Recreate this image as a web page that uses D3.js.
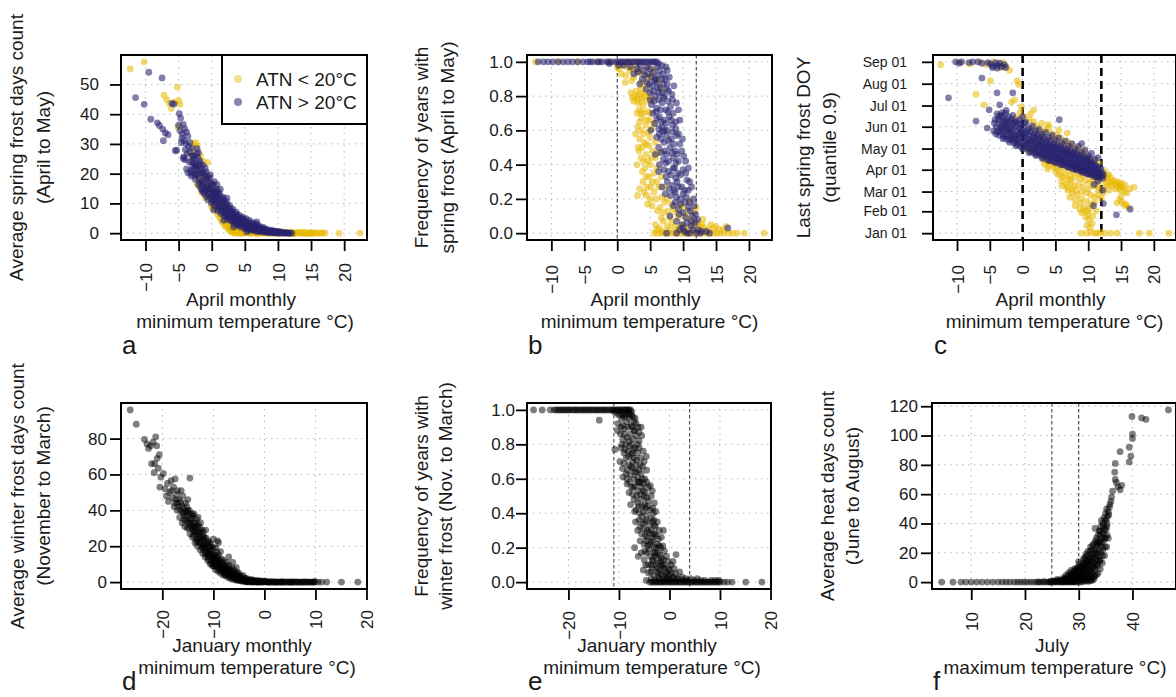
<!DOCTYPE html>
<html><head><meta charset="utf-8">
<script src="https://cdn.jsdelivr.net/npm/d3@7"></script>
<style>
body{margin:0;background:#fff}
svg{display:block}
text{font-family:"Liberation Sans",Arial,Helvetica,sans-serif;fill:#1a1a1a}
</style></head>
<body><svg id="chart" width="1176" height="697"></svg>
<script>
// ---------- tick labels / categories ----------
const aprTicks = [-10,-5,0,5,10,15,20];
const janTicks = [-20,-10,0,10,20];
const julTicks = [10,20,30,40];
const spring_yTicks = [0,10,20,30,40,50];
const freqTicks = [0,0.2,0.4,0.6,0.8,1.0];
const doyTicks = [1,32,60,91,121,152,182,213,244];
const doyLabels = ["Jan 01","Feb 01","Mar 01","Apr 01","May 01","Jun 01","Jul 01","Aug 01","Sep 01"];
const winter_yTicks = [0,20,40,60,80];
const heat_yTicks = [0,20,40,60,80,100,120];
const seriesNames = ["ATN < 20°C","ATN > 20°C"];

// ---------- panel a : April Tmin vs spring frost days ----------
const aCold = [
 [-12.3,55.2],[-10.2,57.6],[-7.2,46.4],[-6.8,44.9],[-6.4,43.6],[-6.1,41.9],[-5.6,44.1],[-5.2,49.1],[-5.0,44.6],[-4.8,43.3],[-5.1,35.6],
 [-2.4,30.4],[-2.7,27.6],[-1.7,26.1],[-1.3,24.2],[-0.6,23.8],[-3.0,26.2],[-2.8,30.0],[-2.2,29.4],
 [-2.1,18.2],[-2.0,20.1],[-1.9,22.3],[-1.6,16.4],[-1.4,19.2],[-1.1,14.1],[-0.9,16.3],[-0.8,18.4],[-0.5,12.2],[-0.4,15.1],[-0.3,17.2],
 [0.0,10.3],[0.1,12.4],[0.2,14.2],[0.3,16.1],[0.5,8.2],[0.6,10.4],[0.7,12.1],[0.9,6.3],[1.0,8.1],[1.1,10.2],[1.3,11.8],
 [1.4,4.4],[1.5,6.2],[1.6,8.3],[1.8,9.6],[2.0,2.3],[2.1,3.4],[2.2,5.1],[2.3,7.2],[2.4,8.4],[2.5,1.2],[2.6,2.2],[2.7,4.1],[2.8,6.0],
 [2.9,0.4],[3.0,1.1],[3.1,2.3],[3.2,3.2],[3.3,4.9],[3.5,0.1],[3.6,1.0],[3.7,2.1],[3.8,3.6],[4.0,0.2],[4.1,0.6],[4.3,1.4],[4.4,2.8],
 [4.8,0.1],[5.0,0.5],[5.2,1.1],[5.4,1.9],[5.8,0.1],[6.0,0.3],[6.3,0.9],[6.7,0.1],[7.0,0.2],[7.3,0.7],
 [0.2,9.0],[0.4,11.0],[0.8,7.2],[1.2,5.3],[1.6,3.6],[1.9,4.8],[2.2,2.6],[2.4,3.8],[2.7,1.6],[3.0,2.8],[3.4,1.6],[0.0,8.6],[-0.6,13.4],[-1.0,11.9],[-1.5,13.6],[-1.8,15.6],[-2.2,16.5],
 [7.8,0.0],[8.2,0.2],[8.6,0.0],[9.0,0.3],[9.4,0.0],[9.8,0.1],[10.2,0.0],[10.6,0.2],[11.0,0.0],[11.4,0.1],[11.8,0.0],[12.2,0.1],
 [12.6,0.0],[13.0,0.1],[13.4,0.0],[13.8,0.1],[14.2,0.0],[14.6,0.0],[15.0,0.1],[15.4,0.0],[15.9,0.0],[16.5,0.0],[17.1,0.0],[19.2,0.0],[22.4,0.0],
 [3.4,0.0],[4.6,0.0],[5.6,0.0],[6.5,0.0],[7.4,0.0],[8.0,0.4],[9.2,0.0],[10.4,0.3],[11.2,0.2],[12.8,0.2],[3.9,1.2],[4.5,0.4],
 [3.2,0.5],[3.8,0.3],[4.2,-0.2],[4.9,0.2],[5.3,0.6],[5.9,-0.1],[6.2,0.5],[6.9,-0.2],[7.2,0.4],[7.7,0.3],[8.4,-0.1],[8.8,0.5],[9.6,0.3],
 [10.0,-0.2],[10.8,0.4],[11.6,-0.1],[12.0,0.4],[12.4,-0.2],[13.2,0.3],[13.6,-0.1],[14.0,0.3],[14.4,-0.2],[14.8,0.2],[15.2,-0.1],[15.6,0.2],[16.2,0.0],[16.8,0.1]
];
const aWarm = [
 [-11.5,45.6],[-10.2,43.3],[-9.5,54.1],[-7.5,52.2],[-9.2,38.3],[-8.2,37.1],[-7.9,36.2],[-7.4,35.0],[-7.0,33.7],[-6.6,33.1],[-7.3,31.1],[-5.5,27.7],
 [-6.0,43.6],[-5.7,43.4],[-4.9,40.2],[-4.7,38.7],[-5.0,36.3],[-4.3,36.6],[-4.1,35.1],[-3.8,34.0],[-4.4,33.3],[-4.2,31.1],[-4.6,30.4],[-3.6,32.6],
 [-3.5,29.2],[-4.0,28.1],[-3.3,27.2],[-4.2,25.6],[-4.0,24.7],[-3.0,28.6],[-3.8,21.6],[-3.6,20.3],[-2.9,22.6],[-2.6,25.1],[-2.3,26.6],[-1.3,13.9],
 [-3.4,24.0],[-3.2,21.0],[-3.7,26.8],[-3.9,30.2],[-4.8,34.5],[-4.5,32.0],[-3.3,30.5],[-2.8,26.0],[-2.2,28.4],[-4.3,25.1],[-3.05,20.1],[-5.3,27.9],
 [-3.1,19.2],[-3.0,24.1],[-2.8,21.3],[-2.5,18.1],[-2.4,23.2],[-2.2,19.6],[-2.0,16.2],[-1.9,21.1],[-1.8,24.3],[-1.6,15.1],[-1.5,17.6],[-1.4,20.4],[-1.3,22.8],
 [-1.1,13.2],[-1.0,15.3],[-0.9,18.1],[-0.8,20.6],[-0.6,11.3],[-0.5,13.6],[-0.4,16.2],[-0.3,18.7],[-0.1,10.1],[0.0,12.2],[0.1,14.1],[0.2,16.4],
 [0.4,9.1],[0.5,11.2],[0.6,13.1],[0.7,14.8],[0.9,7.6],[1.0,9.4],[1.1,11.6],[1.2,13.3],[1.4,6.6],[1.5,8.4],[1.6,10.3],[1.7,12.1],
 [1.9,5.6],[2.0,7.1],[2.1,8.9],[2.2,10.6],[2.4,4.6],[2.5,6.1],[2.6,7.6],[2.7,9.3],[2.9,4.1],[3.0,5.2],[3.1,6.4],[3.2,8.1],
 [3.4,3.1],[3.5,4.4],[3.6,5.6],[3.7,7.1],[3.9,2.6],[4.0,3.6],[4.1,4.6],[4.2,6.0],[4.4,2.1],[4.5,3.1],[4.6,4.1],[4.7,5.4],
 [4.9,1.6],[5.0,2.6],[5.1,3.4],[5.2,4.9],[5.4,1.2],[5.5,2.1],[5.6,3.0],[5.7,4.3],[5.9,1.0],[6.0,1.8],[6.1,2.6],[6.2,3.5],
 [6.4,0.8],[6.5,1.5],[6.6,2.2],[6.7,3.1],[6.9,0.5],[7.0,1.2],[7.1,2.0],[7.4,0.4],[7.5,1.0],[7.6,1.7],[7.9,0.3],[8.0,0.8],[8.1,1.4],
 [8.4,0.2],[8.5,0.6],[8.6,1.1],[8.9,0.1],[9.0,0.5],[9.1,0.9],[9.4,0.1],[9.5,0.4],[9.6,0.7],[9.9,0.0],[10.0,0.3],[10.1,0.6],
 [10.5,0.0],[10.6,0.2],[11.0,0.0],[11.1,0.2],[11.5,0.0],[11.6,0.1],[12.1,0.0],
 [-2.0,27.1],[-1.2,17.0],[0.3,7.8],[1.8,4.3],[3.3,2.1],[5.3,0.4],[6.8,3.8],[2.3,11.8],[0.8,16.3],[-0.2,19.6],
 [-2.7,23.5],[-2.6,19.5],[-2.3,21.8],[-2.1,25.4],[-1.9,18.3],[-1.7,20.2],[-1.7,23.4],[-1.5,14.4],[-1.2,19.4],[-1.0,21.9],[-0.8,12.4],[-0.7,15.7],
 [-0.6,17.9],[-0.3,14.6],[-0.2,12.0],[0.0,15.2],[0.2,11.1],[0.3,13.2],[0.4,17.3],[0.6,9.8],[0.8,12.4],[0.9,14.2],[1.1,8.4],[1.3,10.8],[1.3,14.8],
 [1.5,7.2],[1.7,9.2],[1.8,11.2],[2.0,6.2],[2.1,8.0],[2.3,9.6],[2.4,5.4],[2.6,6.9],[2.8,8.4],[2.9,5.0],[3.1,4.4],[3.2,7.1],[3.4,3.8],[3.6,5.0],
 [3.8,6.3],[4.0,2.9],[4.2,4.1],[4.3,5.2],[4.6,2.6],[4.8,3.7],[4.9,4.6],[5.2,2.0],[5.3,3.0],[5.5,3.8],[5.8,1.4],[5.9,2.3],[6.0,3.0],[6.3,1.2],
 [6.4,2.0],[6.6,2.7],[6.8,1.0],[7.0,1.6],[7.2,2.4],[7.3,0.8],[7.6,1.3],[7.8,1.9],[8.2,0.5],[8.3,1.0],[8.7,0.4],[8.8,0.8],[9.2,0.3],[9.3,0.7],
 [9.7,0.2],[9.8,0.5],[10.3,0.1],[10.4,0.4],[10.8,0.1],[11.3,0.1],[11.8,0.0],
 [-2.9,25.8],[-2.5,22.4],[-2.4,20.0],[-2.0,23.0],[-1.8,17.0],[-1.6,21.8],[-1.4,16.2],[-1.1,20.0],[-0.9,14.6],[-0.7,19.0],[-0.5,15.0],[-0.4,13.0],
 [-0.1,16.8],[0.1,10.8],[0.2,13.0],[0.5,14.0],[0.6,11.8],[0.9,10.4],[1.0,13.0],[1.2,9.0],[1.4,11.9],[1.6,8.0],[1.9,10.2],[2.1,6.6],[2.2,8.4],
 [2.5,7.0],[2.7,5.4],[2.9,7.4],[3.1,5.6],[3.3,4.2],[3.5,6.2],[3.7,4.0],[3.9,5.2],[4.1,3.2],[4.3,4.6],[4.5,3.6],[4.7,2.8],[4.9,3.9],[5.1,2.2],
 [5.3,3.4],[5.6,2.5],[5.8,1.8],[6.0,2.4],[6.3,1.6],[6.5,2.4],[6.8,1.4],[7.1,1.0],[7.3,1.8],[7.7,0.9],[8.0,1.2],[8.4,0.7],[8.9,0.6]
];

// ---------- panel b : April Tmin vs frequency of spring frost ----------
const bCold = [
 [-12.4,1],[-8.9,1],[-6.1,1],[-3.0,1],[-0.8,1],[1.5,1],[3.2,1],
 [0.3,0.96],[0.8,0.98],[1.3,0.92],[1.9,0.95],[2.5,0.91],[3.0,0.94],[1.2,0.88],[3.6,0.88],[4.3,0.86],[5.1,0.92],[5.6,0.95],[6.3,0.89],[6.8,0.84],[4.8,0.97],
 [0.0,0.97],[1.6,0.97],[2.3,0.96],[2.8,0.98],[3.4,0.95],[4.0,0.93],[4.6,0.9],[2.2,0.89],[0.6,0.93],
 [2.1,0.82],[2.6,0.8],[3.0,0.78],[3.4,0.81],[3.8,0.79],[4.2,0.8],[4.5,0.77],[3.2,0.76],[2.5,0.77],[3.9,0.74],
 [2.9,0.83],[3.6,0.84],[4.1,0.82],[4.8,0.8],[5.3,0.78],[2.3,0.79],[3.2,0.8],[3.7,0.77],
 [3.3,0.72],[4.0,0.7],[4.6,0.71],[4.9,0.66],[3.7,0.67],[4.3,0.63],[5.2,0.61],[3.1,0.62],[4.0,0.58],[4.7,0.59],
 [3.0,0.7],[3.6,0.7],[5.0,0.7],[3.4,0.65],[4.5,0.66],[5.6,0.64],[2.8,0.58],[3.6,0.6],[5.0,0.56],[5.8,0.53],[3.2,0.5],[3.8,0.5],[4.4,0.52],[6.2,0.47],
 [3.4,0.55],[4.1,0.53],[4.8,0.51],[5.4,0.48],[4.4,0.46],[3.6,0.44],[5.8,0.44],[3.0,0.4],[4.2,0.38],[5.0,0.4],[3.8,0.36],
 [3.3,0.48],[4.6,0.42],[5.2,0.44],[4.0,0.42],[6.0,0.38],[5.6,0.35],[4.4,0.33],[3.9,0.3],[5.1,0.27],[6.0,0.3],[6.7,0.33],[7.2,0.27],
 [4.8,0.33],[5.3,0.3],[4.5,0.27],[3.4,0.26],[3.1,0.22],[5.6,0.24],[4.1,0.24],[6.3,0.27],[5.9,0.2],[6.8,0.21],[7.2,0.18],[6.5,0.15],[4.6,0.17],
 [4.4,0.22],[5.0,0.2],[5.3,0.16],[6.1,0.13],[7.0,0.12],[7.6,0.2],[8.6,0.14],[9.3,0.09],[8.0,0.09],[10.1,0.15],[11.0,0.19],[12.0,0.15],[6.7,0.09],
 [8.2,0.17],[7.7,0.13],[9.0,0.12],[9.6,0.16],[10.3,0.1],[10.8,0.13],[11.2,0.08],[11.7,0.12],[12.2,0.06],
 [5.8,0.05],[6.4,0.03],[7.0,0.07],[7.6,0.04],[8.3,0.06],[9.1,0.02],[10.0,0.05],[10.7,0.03],[11.5,0.05],[12.6,0.04],[13.2,0.03],[14.2,0.05],[15.0,0.04],[16.1,0.02],
 [6.0,0.02],[6.9,0.01],[8.0,0.02],[8.8,0.04],[9.6,0.03],[10.4,0.01],[11.9,0.02],[12.9,0.05],[13.8,0.02],[14.6,0.03],[15.5,0.02],[16.5,0.04],[13.0,0.08],
 [5.6,0],[6.1,0],[6.6,0],[7.1,0],[7.6,0],[8.1,0],[8.6,0],[9.1,0],[9.6,0],[10.1,0],[10.6,0],[11.1,0],[11.6,0],[12.1,0],[12.6,0],[13.1,0],
 [13.6,0],[14.1,0],[14.6,0],[15.1,0],[15.6,0],[16.2,0],[16.9,0],[17.5,0],[18.2,0],[19.3,0],[22.3,0]
];
const bWarm = [
 [-12.0,1],[-11.2,1],[-10.5,1],[-9.8,1],[-9.0,1],[-8.2,1],[-7.5,1],[-6.8,1],[-6.0,1],[-5.2,1],[-4.5,1],[-3.7,1],[-3.0,1],[-2.3,1],
 [-1.6,1],[-0.9,1],[-0.2,1],[0.5,1],[1.2,1],[1.9,1],[2.6,1],[3.3,1],[4.0,1],[4.7,1],[5.4,1],[6.0,1],
 [-4.1,1],[-2.7,1],[-1.3,1],[0.1,1],[0.8,1],[1.6,1],[2.3,1],[3.0,1],[3.7,1],[4.4,1],[5.1,1],[5.7,1],[6.3,0.99],[6.8,0.98],[7.4,0.97],
 [-1.2,0.99],[0.2,0.98],[1.0,0.98],[2.0,0.97],[3.0,0.96],[3.5,0.98],[4.0,0.95],[4.5,0.97],[5.0,0.96],[5.5,0.94],[6.0,0.97],[6.5,0.95],
 [2.5,0.93],[4.2,0.92],[5.2,0.91],[6.2,0.92],[7.0,0.93],[7.3,0.9],[3.8,0.9],[3.4,0.87],
 [3.2,0.94],[4.7,0.93],[5.8,0.9],[6.8,0.9],[7.6,0.95],[7.9,0.91],
 [4.5,0.88],[5.3,0.86],[6.0,0.88],[6.5,0.85],[7.0,0.87],[7.5,0.84],[5.0,0.82],[5.8,0.8],[6.3,0.82],[7.2,0.8],[7.8,0.83],[4.4,0.84],
 [4.9,0.87],[5.5,0.83],[6.1,0.85],[6.8,0.82],[7.6,0.87],[8.3,0.81],[8.6,0.86],[5.7,0.89],
 [5.0,0.78],[5.6,0.77],[6.3,0.78],[7.0,0.79],[7.7,0.77],[8.4,0.78],[9.0,0.76],[5.9,0.71],[6.6,0.72],[7.7,0.71],[9.3,0.72],
 [5.2,0.75],[6.0,0.73],[6.8,0.76],[7.4,0.72],[8.1,0.74],[6.4,0.68],[7.1,0.66],[7.9,0.68],[8.5,0.7],[5.7,0.64],[6.8,0.62],[7.6,0.6],[8.4,0.63],[8.9,0.65],[5.4,0.7],[5.1,0.6],
 [6.0,0.67],[6.7,0.65],[7.4,0.64],[8.2,0.66],[8.9,0.61],[9.5,0.66],[6.3,0.61],[7.2,0.6],
 [6.0,0.56],[6.7,0.55],[7.5,0.57],[8.2,0.55],[9.0,0.57],[6.3,0.5],[7.2,0.48],[8.0,0.5],[8.8,0.48],[9.5,0.52],[7.0,0.43],[7.8,0.42],[8.5,0.44],[9.3,0.42],[10.1,0.45],[5.8,0.46],[6.4,0.4],
 [6.4,0.58],[7.1,0.53],[7.8,0.54],[8.6,0.52],[9.3,0.58],[9.9,0.55],[6.9,0.59],[8.4,0.59],
 [6.7,0.47],[7.5,0.46],[8.3,0.47],[9.1,0.46],[9.8,0.48],[10.4,0.42],[7.4,0.41],[8.9,0.41],
 [7.1,0.37],[7.8,0.36],[8.5,0.38],[9.2,0.35],[10.0,0.37],[10.6,0.31],[7.6,0.3],[8.4,0.28],[9.1,0.3],[9.8,0.27],[10.3,0.25],[7.3,0.23],[8.1,0.22],[8.8,0.24],[9.6,0.2],[10.5,0.21],[11.0,0.18],[6.8,0.27],[6.3,0.36],[11.6,0.2],
 [7.4,0.33],[8.2,0.34],[8.9,0.32],[9.6,0.34],[10.4,0.35],[11.0,0.3],[8.7,0.38],[10.8,0.38],
 [7.9,0.26],[8.6,0.25],[9.3,0.27],[10.0,0.23],[10.8,0.25],[11.3,0.27],[9.0,0.21],
 [8.8,0.18],[9.6,0.17],[10.3,0.18],[11.1,0.13],[11.7,0.16],[9.4,0.11],[10.4,0.09],[11.9,0.11],
 [8.5,0.16],[9.3,0.14],[10.0,0.12],[10.8,0.15],[11.4,0.1],[8.0,0.1],[9.0,0.07],[9.8,0.05],[10.6,0.06],[11.2,0.04],[11.8,0.06],[12.3,0.02],[10.2,0.01],[11.0,0],[12.0,0],[13.5,0.01],[16.8,0.03],[12.8,0.01],[7.5,0],[9.0,0],
 [9.5,0.02],[10.6,0.0],[11.5,0.02],[12.2,0.08],[11.3,0.07],[10.0,0.03],[12.6,0.0],[14.0,0.0]
];

// ---------- panel c : April Tmin vs last spring frost DOY ----------
const cCold = [
 [-12.5,240],[-9.5,243],[-8.0,241],[-6.5,244],[-5.5,240],[-4.5,244],[-3.5,236],[-2.5,238],[-2.0,232],[-3.0,243],
 [-4.9,217],[-7.1,198],[-0.85,217],[-0.6,212],[-1.7,187],[-1.2,190],[-0.4,172],[-5.9,183],[-0.2,180],[-1.0,165],
 [0.3,166],[1.0,162],[1.7,159],[1.7,176],[2.2,152],[2.7,146],[3.5,148],[4.3,143],[5.1,140],[5.8,136],[6.8,131],[7.5,127],[8.5,122],[9.5,117],[1.2,170],[6.8,143],[2.9,157],[4.0,151],
 [1.5,150],[2.5,140],[3.3,138],[4.6,135],[5.5,130],[6.3,127],[7.2,122],[8.0,118],[9.0,112],[10.0,108],[10.8,104],[11.6,100],[3.9,155],[5.5,147],
 [0.5,120],[1.2,118],[2.0,115],[2.6,114],[3.3,99],[4.0,97],[4.7,95],[5.3,92],[3.8,92],[4.4,105],[3.0,108],
 [3.5,103],[4.2,100],[4.9,98],[5.6,96],[6.3,93],[7.0,90],[7.7,88],[8.4,86],[9.1,83],[5.0,88],[5.8,86],[6.5,84],[7.2,82],[8.0,80],[8.8,78],[9.5,76],[10.2,73],
 [5.5,84],[6.2,80],[6.9,76],[7.4,72],[5.9,75],[6.6,70],[7.8,68],[8.3,92],[9.0,88],[9.8,85],[10.5,82],[11.3,80],[11.8,77],[10.6,75],[11.4,70],[11.7,62],[12.3,58],
 [6.0,68],[6.8,66],[7.5,63],[8.2,62],[9.0,60],[9.7,58],[10.4,55],[11.0,52],[7.3,78],[8.5,70],[9.2,67],[10.0,64],[10.8,68],[11.5,65],
 [6.9,62],[7.6,58],[8.3,55],[9.0,50],[9.8,46],[10.5,42],[7.2,52],[8.0,48],[8.8,44],[9.4,38],[10.2,36],
 [8.0,40],[8.7,36],[9.3,33],[10.0,28],[10.7,25],[9.9,33],[11.2,33],[11.0,44],[12.0,50],[11.5,55],
 [9.0,30],[9.6,24],[10.1,20],[10.6,15],[9.8,12],[10.3,9],
 [8.9,1],[9.7,1],[10.4,2],[11.0,1],[11.4,1],[11.9,2],[12.5,1],[13.4,1],[14.4,1],[17.8,1],[19.3,1],[22.3,1],
 [12.2,85],[12.8,83],[13.4,80],[13.9,76],[14.3,72],[14.7,69],[15.0,67],[15.3,66],[14.1,70],[14.6,66],[13.7,74],[15.6,69],[16.3,64],[17.0,66],[12.9,78],[13.3,73],
 [12.5,65],[13.0,70],[13.6,68],[14.2,64],[14.9,62],[15.5,60],[15.9,58],[14.5,74],[15.1,72],[13.2,62],[12.6,72],
 [11.0,88],[11.8,86],[12.4,90],[12.6,80],[13.1,84],
 [14.8,48],[15.2,45],[15.7,42],[16.1,38],[15.0,53],[14.4,44],[15.6,40]
];
const cWarm = [
 [-10.2,244],[-9.7,242],[-9.3,244],[-8.2,243],[-7.6,244],[-6.8,244],[-6.2,242],[-5.3,243],[-4.9,241],[-4.5,238],[-4.1,243],[-3.8,239],[-3.5,242],[-3.2,237],[-2.8,240],[-4.6,236],[-3.9,235],[-2.6,236],
 [-11.3,193],[-6.2,221],[-3.9,200],[-1.5,200],[-3.5,183],[-5.1,176],[-7.1,160],[-5.4,150],
 [-4.1,142],[-4.0,152],[-4.2,162],[-3.9,170],[-3.6,140],[-3.5,150],[-3.4,158],[-3.6,167],[-3.0,141],[-3.1,148],[-2.9,156],[-3.0,165],[-3.1,172],
 [-2.5,139],[-2.6,146],[-2.4,154],[-2.5,162],[-2.0,137],[-2.1,144],[-1.9,151],[-2.0,159],[-2.1,166],[-1.5,135],[-1.6,142],[-1.4,149],[-1.5,156],
 [-1.0,132],[-1.1,139],[-0.9,146],[-1.0,153],[-1.1,160],[-0.5,130],[-0.6,137],[-0.4,143],[-0.5,150],[0.0,127],[0.1,133],[-0.1,139],[0.0,145],[0.1,151],
 [0.5,125],[0.6,131],[0.4,137],[0.5,143],[1.0,122],[1.1,128],[0.9,134],[1.0,140],[1.5,120],[1.6,126],[1.4,132],[1.5,138],
 [2.0,118],[2.1,124],[1.9,130],[2.0,136],[2.5,116],[2.6,122],[2.4,128],[2.5,134],[3.0,114],[3.1,120],[2.9,126],[3.0,131],
 [3.5,112],[3.6,118],[3.4,123],[3.5,129],[4.0,110],[4.1,116],[3.9,121],[4.0,127],[4.5,108],[4.6,114],[4.4,119],[4.5,125],
 [5.0,107],[5.1,112],[4.9,117],[5.0,123],[5.5,105],[5.6,110],[5.4,115],[5.5,121],[6.0,103],[6.1,108],[5.9,113],[6.0,119],
 [6.5,101],[6.6,106],[6.4,111],[6.5,117],[7.0,99],[7.1,104],[6.9,109],[7.0,115],[7.5,97],[7.6,102],[7.4,107],[7.5,113],
 [8.0,95],[8.1,100],[7.9,105],[8.0,111],[8.5,93],[8.6,98],[8.4,103],[8.5,109],[9.0,92],[9.1,96],[8.9,101],[9.0,107],
 [9.5,90],[9.6,95],[9.4,99],[9.5,105],[10.0,88],[10.1,93],[9.9,98],[10.0,103],[10.5,86],[10.6,91],[10.4,96],[10.5,101],
 [11.0,84],[11.1,89],[10.9,94],[11.0,99],[11.5,83],[11.6,88],[11.4,93],[12.0,82],[12.1,87],[11.9,92],
 [-4.4,146],[-4.3,157],[-3.8,145],[-3.7,162],[-3.3,145],[-3.2,153],[-3.3,168],[-2.8,137],[-2.7,151],[-2.8,160],[-2.6,171],[-2.3,134],[-2.2,148],
 [-2.3,157],[-1.8,133],[-1.7,140],[-1.8,147],[-1.7,163],[-1.3,129],[-1.2,136],[-1.3,158],[-0.8,127],[-0.7,134],[-0.8,141],[-0.7,157],[-0.3,124],
 [-0.2,147],[-0.3,155],[0.2,124],[0.3,141],[0.3,157],[0.7,121],[0.8,128],[0.8,147],[1.2,117],[1.3,131],[1.2,145],[1.7,115],[1.8,122],[1.7,135],
 [1.8,142],[2.2,113],[2.3,127],[2.2,140],[2.7,111],[2.8,119],[2.7,131],[2.8,138],[3.2,109],[3.3,116],[3.2,124],[3.3,135],[3.7,106],[3.8,114],
 [3.7,126],[3.8,133],[4.2,104],[4.3,112],[4.2,124],[4.3,131],[4.7,103],[4.8,110],[4.7,122],[4.8,128],[5.2,101],[5.3,108],[5.2,120],[5.3,126],
 [5.7,99],[5.8,106],[5.7,118],[5.8,124],[6.2,98],[6.3,104],[6.2,116],[6.3,122],[6.7,96],[6.8,102],[6.7,114],[6.8,120],[7.2,94],[7.3,100],
 [7.2,112],[7.3,118],[7.7,92],[7.8,99],[7.7,110],[7.8,116],[8.2,91],[8.3,97],[8.2,108],[8.3,114],[8.7,89],[8.8,95],[8.7,106],[8.8,112],
 [9.2,87],[9.3,93],[9.2,104],[9.3,110],[9.7,86],[9.8,92],[9.7,102],[9.8,108],[10.2,84],[10.3,90],[10.2,100],[10.3,106],[10.7,83],[10.8,88],
 [10.7,98],[11.2,81],[11.3,86],[11.2,96],[11.7,80],[11.8,85],[11.7,95],[12.2,79],[12.3,84],
 [-0.5,162],[0.5,158],[1.5,153],[2.5,148],[3.5,144],[4.5,140],[5.5,136],[6.5,132],[7.5,128],[8.5,124],[9.5,119],[10.5,114],[11.5,108],
 [-2.5,175],[-1.5,168],[0.0,166],[1.0,150],[2.0,146],[3.0,141],[4.0,137],[5.0,133],[6.0,128],[7.0,124],[8.0,120],[9.0,116],[10.0,111],[11.0,106],
 [0.0,120],[1.0,115],[2.0,111],[3.0,107],[4.0,104],[5.0,101],[6.0,98],[7.0,95],[8.0,92],[9.0,89],[10.0,85],[11.0,81],[-1.0,125],[-2.0,130],[-3.0,135],
 [5.6,162],[9.0,128],[10.8,40],[12.3,43],[14.3,27],[16.4,35],[11.5,75],[12.2,62],[10.9,70]
];

// ---------- panel d : January Tmin vs winter frost days ----------
const dPts = [
 [-26.3,96],[-25.1,88],[-23.5,79.5],[-23.0,77],[-22.7,74.5],[-22.3,76],[-21.8,78],[-21.3,81],[-21.1,76],[-22.1,66],[-21.5,66],[-20.6,71],[-21.0,69],
 [-21.6,61],[-20.8,63.5],[-20.3,58.5],[-19.8,60.5],[-20.5,53],[-19.5,52],[-19.0,55],[-18.3,56.5],[-17.8,53],[-17.5,57.5],[-18.6,50],[-18.0,47],
 [-17.2,49],[-16.7,46],[-16.3,51],[-17.5,44],[-16.8,42],[-16.0,39],[-15.5,44],[-15.2,37],[-14.6,58],[-14.7,40],[-15.8,35],[-14.8,33],[-14.3,36],
 [-13.8,38],[-13.5,33],[-14.2,30],[-13.8,28],[-13.2,31],[-12.8,27],[-13.4,24],[-12.5,22],[-12.2,29],[-11.8,25],[-12.0,19],[-11.5,21],[-11.2,17],
 [-10.8,22],[-11.0,14],[-10.5,18],[-10.2,12],[-9.8,15],[-9.5,19],[-9.2,23],[-10.0,9],[-9.5,10],[-9.0,13],[-8.7,8],[-8.3,11],[-8.0,6],[-7.5,9],
 [-7.2,5],[-6.8,7],[-6.5,3.5],[-6.0,5],[-5.5,2.5],[-5.2,4],[-4.8,1.5],[-4.5,3],[-4.0,1],[-3.5,2],[-3.0,0.5],[-2.5,1],[-2.0,0.3],[-1.5,0.5],[-1.0,0.2],
 [-16.1,33],[-15.9,38.5],[-16.2,42.5],[-15.1,30],[-15.0,34],[-14.9,38.5],[-15.2,42],[-14.1,25],[-14.0,29],[-13.9,33],[-14.0,37],[-13.1,20],[-13.0,24],
 [-12.9,28],[-13.0,32],[-12.1,16],[-12.0,20.5],[-11.9,24],[-12.0,28],[-11.1,12],[-11.0,16],[-10.9,20],[-11.0,23],[-10.1,9],[-10.0,12.5],[-9.9,15.5],
 [-10.0,19],[-9.1,6],[-9.0,9],[-8.9,12],[-9.0,15],[-8.1,4],[-8.0,6.5],[-7.9,9],[-8.0,12],[-7.1,2.5],[-7.0,4.5],[-6.9,7],[-7.0,9.5],[-6.1,1.5],
 [-6.0,3],[-5.9,5],[-6.0,7],[-5.1,0.8],[-5.0,2],[-4.9,3.5],[-5.0,5],[-4.1,0.4],[-4.0,1.2],[-3.9,2.3],[-3.1,0.2],[-3.0,0.7],[-2.9,1.5],[-2.1,0.1],
 [-1.9,0.4],[-2.0,0.9],[-1.1,0],[-0.9,0.5],
 [-12.6,18],[-11.6,14],[-10.6,10],[-9.6,7],[-8.6,5],[-7.6,3.5],[-6.6,2],[-5.6,1.2],[-4.6,0.6],[-3.6,0.3],[-13.6,22],[-14.6,27],[-15.6,31],[-16.6,36],[-17.1,40],
 [-19.2,48],[-18.8,45],[-18.2,51],[-17.7,42],[-17.3,46],[-17.0,44],[-16.5,40],[-16.4,44.5],[-15.8,41],[-15.4,34.5],[-15.3,39.5],[-14.8,30.5],
 [-14.5,35],[-14.4,31.5],[-13.9,26],[-13.6,30],[-13.3,26.5],[-13.3,35],[-12.8,22],[-12.7,30.5],[-12.4,25],[-12.3,19.5],[-11.9,21],[-11.7,17],
 [-11.4,24.5],[-11.3,19],[-10.9,14.5],[-10.7,17.5],[-10.5,21],[-10.3,15],[-10.4,10.5],[-9.8,11],[-9.7,13.5],[-9.4,8.5],[-9.3,16.5],[-9.2,11],
 [-8.8,9.5],[-8.5,6.5],[-8.4,13],[-8.2,8],[-7.8,5],[-7.7,7.5],[-7.4,11],[-7.3,6.5],[-6.9,4],[-6.7,5.5],[-6.4,8],[-6.3,2.5],[-5.8,3.5],[-5.7,1.8],
 [-5.4,5.5],[-5.3,2.8],[-4.7,2.2],[-4.4,1.0],[-4.2,3.8],[-3.8,0.8],[-3.4,1.2],[-3.3,0.3],[-2.7,0.6],[-2.3,0.4],[-1.7,0.3],[-1.3,0.1],[-0.7,0.1],
 [-11.5,29],[-13.0,36],[-10.0,24],[-9.0,22],[-8.6,17],[-7.0,14],[-6.2,11],[-5.5,8],[-12.5,33],[-15.0,46],[-17.0,51],[-16.0,48],
 [-15.6,37],[-15.0,40],[-14.4,33],[-14.2,38],[-13.7,31],[-13.5,28],[-13.2,22.5],[-12.9,25],[-12.6,28],[-12.3,23],[-12.0,25.5],[-11.7,19],
 [-11.5,15.5],[-11.2,22],[-10.8,12.5],[-10.6,16],[-10.3,19.5],[-10.0,14],[-9.7,9.5],[-9.6,12],[-9.3,14],[-8.9,7],[-8.7,10.5],[-8.4,8.5],
 [-8.2,10],[-7.9,6],[-7.7,4.2],[-7.5,7],[-7.2,8],[-6.8,3.2],[-6.6,4.8],[-6.4,6],[-6.1,3.8],[-5.8,2.5],[-5.6,4.2],[-5.3,1.5],[-5.0,3],
 [-4.7,1.2],[-4.5,2.1],[-4.2,0.8],[-3.9,1.5],[-3.6,0.6],[-3.3,1.0],
 [-0.5,0],[0,0.1],[0.5,0],[1.0,0],[1.5,0],[2.0,0],[2.5,0],[3.0,0],[3.5,0],[4.0,0],[4.5,0],[5.0,0],[5.5,0],[6.0,0],[6.5,0],[7.0,0],[7.5,0],
 [8.0,0],[8.5,0],[9.0,0],[9.5,0],[10.5,0],[11.2,0],[12.2,0],[15.1,0],[18.3,0],
 [-2.5,0.2],[-1.5,0],[-0.8,0.3],[0.3,0.3],[1.2,0.2],[2.2,0.1],[3.3,0.2],[5.2,0.1],
 [0.8,0],[1.8,0.1],[2.8,0],[3.8,0.1],[4.8,0],[5.8,0.1],[6.8,0],[7.8,0.1],[8.8,0],[9.8,0.1],
 [-3.5,0.1],[-2.6,0],[-1.8,0.1],[-1.2,0.3],[-0.3,0.2],[0.6,0.1],[1.4,0.1],[2.4,0],[3.4,0],[4.4,0.1],[5.4,0],[6.4,0.1],[7.4,0],[8.4,0.1],
 [9.4,0],[9.9,0.2],[0.2,0.5],[-0.5,0.7],[-1.4,1],[-2.4,1.4]
];

// ---------- panel e : January Tmin vs frequency of winter frost ----------
const ePts = [
 [-26.9,1],[-25.2,1],[-23.6,1],[-22.8,1],[-22.0,1],[-21.2,1],[-20.5,1],[-19.8,1],[-19.0,1],[-18.3,1],[-17.5,1],[-16.8,1],[-16.0,1],
 [-15.3,1],[-14.5,1],[-13.8,1],[-13.0,1],[-12.3,1],[-11.5,1],[-10.8,1],[-10.2,1],[-9.6,1],[-9.0,1],[-8.5,1],[-8.0,1],[-7.5,0.99],
 [-22.4,1],[-21.6,1],[-20.9,1],[-20.1,1],[-19.4,1],[-18.6,1],[-17.9,1],[-17.1,1],[-16.4,1],[-15.7,1],[-14.9,1],[-14.2,1],[-13.4,1],
 [-12.7,1],[-11.9,1],[-11.2,1],[-10.5,1],[-9.9,1],[-9.3,1],[-8.7,1],[-8.2,1],[-7.7,1],
 [-11.0,0.99],[-10.4,0.98],[-9.8,0.99],[-9.3,0.97],[-8.7,0.97],[-8.1,0.98],[-7.2,0.96],[-6.8,0.95],[-6.2,0.9],
 [-13.9,0.94],[-10.8,0.77],[-9.8,0.7],
 [-10.0,0.97],[-9.5,0.95],[-9.0,0.96],[-8.5,0.93],[-8.0,0.95],[-7.5,0.97],[-7.0,0.93],[-9.2,0.91],[-8.2,0.9],[-7.4,0.9],[-6.6,0.92],
 [-10.2,0.92],[-9.6,0.9],[-9.7,0.86],[-9.2,0.83],[-8.0,0.82],[-7.0,0.88],[-6.0,0.87],[-5.6,0.9],[-10.3,0.88],[-8.9,0.89],[-7.6,0.91],
 [-9.0,0.86],[-8.4,0.84],[-7.8,0.86],[-7.2,0.83],[-6.6,0.85],[-6.0,0.82],[-8.7,0.8],[-7.5,0.8],[-6.8,0.78],[-5.5,0.85],
 [-9.6,0.78],[-9.0,0.75],[-8.6,0.72],[-7.9,0.79],[-7.1,0.77],[-6.0,0.78],[-5.2,0.76],[-4.6,0.73],[-9.3,0.66],[-8.6,0.63],[-5.0,0.7],[-4.5,0.65],[-8.4,0.6],[-6.6,0.64],[-9.2,0.61],
 [-8.2,0.76],[-7.6,0.74],[-7.0,0.72],[-6.3,0.75],[-5.7,0.72],[-8.0,0.68],[-7.3,0.66],[-6.6,0.68],[-6.0,0.65],[-5.3,0.67],
 [-7.7,0.62],[-7.0,0.6],[-6.3,0.61],[-5.6,0.63],[-4.9,0.6],
 [-9.4,0.8],[-8.8,0.77],[-8.1,0.73],[-7.3,0.75],[-6.5,0.71],[-5.8,0.68],[-9.0,0.69],[-8.3,0.65],[-7.6,0.67],[-6.9,0.64],[-6.2,0.58],[-5.4,0.6],
 [-7.9,0.58],[-7.1,0.55],[-6.5,0.5],[-5.8,0.51],[-5.2,0.53],[-4.5,0.49],[-6.1,0.44],[-5.5,0.38],[-4.8,0.35],[-4.3,0.44],[-3.6,0.37],[-3.0,0.33],
 [-4.9,0.18],[-4.4,0.26],[-3.9,0.22],[-3.2,0.28],[-2.6,0.27],[-2.0,0.21],[-2.9,0.15],[-2.3,0.17],[-1.7,0.12],[-1.0,0.08],[-0.5,0.05],[-3.6,0.1],
 [-8.4,0.57],[-8.0,0.52],[-7.7,0.45],[-6.0,0.58],[-5.1,0.57],[-4.5,0.58],[-3.8,0.56],[-3.4,0.53],[-3.0,0.46],[-5.4,0.44],[-4.7,0.43],[-6.9,0.41],[-3.3,0.43],[-2.7,0.41],[-7.3,0.51],
 [-7.5,0.55],[-6.8,0.56],[-6.2,0.53],[-5.5,0.55],[-4.8,0.52],[-4.2,0.55],[-7.0,0.48],[-6.3,0.46],[-5.6,0.48],[-4.9,0.45],[-4.2,0.47],[-3.6,0.5],
 [-6.6,0.42],[-5.9,0.4],[-5.2,0.41],[-4.5,0.39],[-3.8,0.42],[-3.2,0.4],
 [-6.7,0.35],[-6.3,0.3],[-5.8,0.32],[-5.1,0.31],[-3.7,0.3],[-3.1,0.36],[-2.4,0.35],[-2.0,0.3],[-1.6,0.26],[-5.8,0.24],[-4.6,0.24],[-3.3,0.24],[-1.3,0.21],[-2.6,0.2],[-1.2,0.3],
 [-6.0,0.36],[-5.3,0.34],[-4.6,0.36],[-4.0,0.33],[-3.4,0.35],[-2.8,0.32],[-5.5,0.28],[-4.8,0.27],[-4.1,0.29],[-3.5,0.26],[-2.9,0.28],[-2.2,0.25],
 [-5.0,0.22],[-4.3,0.21],[-3.6,0.23],[-3.0,0.2],[-2.4,0.22],[-1.7,0.2],[-6.9,0.2],[-6.2,0.15],
 [-5.6,0.17],[-5.0,0.13],[-4.0,0.19],[-3.4,0.13],[-2.8,0.17],[-2.2,0.11],[-1.6,0.14],[-1.0,0.18],[-0.3,0.12],[0.3,0.1],[0.9,0.08],[-5.2,0.07],
 [-4.7,0.1],[-3.7,0.06],[-2.5,0.08],[-1.8,0.05],[-1.1,0.1],[0.0,0.07],[0.7,0.12],[1.2,0.05],[2.0,0.06],
 [-4.5,0.17],[-3.8,0.15],[-3.1,0.17],[-2.5,0.14],[-1.9,0.16],[-1.2,0.13],[-0.6,0.15],[1.3,0.16],[-4.2,0.1],[-3.4,0.08],[-2.7,0.1],[-2.0,0.07],
 [-1.4,0.09],[-0.8,0.06],[-0.2,0.08],[0.4,0.05],[-4.2,0.055],[-3.0,0.04],[-2.2,0.03],[-1.5,0.04],[-0.8,0.03],[0.0,0.04],[0.8,0.03],[1.5,0.02],[2.5,0.03],[3.2,0.02],[5.5,0.02],
 [-4.6,0.01],[-3.6,0.02],[-2.9,0.01],[-2.0,0.02],[-1.3,0.01],[-0.6,0.02],[0.1,0.01],[0.6,0.02],[1.2,0.01],[1.9,0.02],[2.8,0.01],[3.5,0.01],
 [4.2,0.02],[4.9,0.01],[6.2,0.01],[7.0,0.01],[8.3,0.01],[9.1,0.01],[9.8,0.01],[11.5,0],
 [-3.9,0],[-3.2,0],[-2.5,0],[-1.8,0],[-1.1,0],[-0.4,0],[0.3,0],[1.0,0],[1.7,0],[2.4,0],[3.1,0],[3.8,0],[4.5,0],[5.2,0],[5.9,0],[6.6,0],
 [7.3,0],[8.0,0],[8.7,0],[9.4,0],[10.1,0],[10.8,0],[12.4,0],[15.1,0],[18.3,0],
 [-3.5,0],[-2.8,0],[-2.1,0],[-1.5,0],[-0.8,0],[-0.1,0],[0.6,0],[1.3,0],[2.0,0],[2.7,0],[3.4,0],[4.1,0],[4.8,0],[5.5,0],[6.2,0],[6.9,0],
 [7.6,0],[8.3,0],[9.0,0],[9.7,0],
 [-8.8,0.98],[-7.9,0.97],[-6.9,0.88],[-6.3,0.8],[-7.3,0.7],[-5.8,0.58],[-5.0,0.5],[-4.4,0.3],[-3.3,0.12],[-2.4,0.06],[-1.6,0.1],[-0.4,0.02]
];

// ---------- panel f : July Tmax vs heat days ----------
const fPts = [
 [4.5,0],[6.6,0],[8.1,0],[9.0,0],[10.0,0],[11.0,0],[12.0,0],[13.0,0],[14.0,0],[15.0,0],[15.8,0],[16.5,0],[17.2,0],[18.0,0],[18.6,0],[19.2,0],
 [19.8,0],[20.4,0],[21.0,0],[21.6,0],[22.2,0],[22.8,0],[23.4,0],[24.0,0],[24.5,0],[25.0,0],[25.5,0],[26.0,0],[26.5,0],[27.0,0],[27.5,0],
 [28.0,0],[28.5,0],[29.0,0],[29.5,0],[30.0,0],[30.5,0],[31.0,0.5],[31.8,0.5],[32.3,1],[32.8,2],
 [22.5,0.2],[23.5,0.3],[24.5,0.2],[25.3,0.4],[25.8,0.6],[26.6,0.8],[27.4,0.8],[28.7,0.3],[29.2,0.6],
 [26.0,0.5],[26.3,1],[27.0,0.5],[27.1,1.5],[27.2,3],[27.5,1],[27.6,2.5],[27.7,5],[28.0,1],[28.1,2.5],[28.0,4],[28.2,6.5],
 [28.5,1.5],[28.6,3],[28.4,5],[28.6,8],[29.0,1.5],[29.1,3],[28.9,5],[29.0,7],[29.5,2],[29.6,4],[29.4,6],[29.5,9],
 [30.0,2],[30.1,4],[29.9,6.5],[30.0,9],[30.1,12],[30.5,3],[30.6,5],[30.4,8],[30.5,11],
 [31.0,3],[31.1,6],[30.9,9],[31.0,12],[31.1,15],[31.5,4],[31.6,7],[31.4,10],[31.5,14],[31.6,18],
 [32.0,5],[32.1,8],[31.9,12],[32.0,16],[32.1,21],[32.5,6],[32.6,10],[32.4,14],[32.5,19],[32.6,25],
 [33.0,8],[33.1,12],[32.9,17],[33.0,22],[33.1,28],[33.5,11],[33.6,15],[33.4,20],[33.5,26],[33.6,32],
 [34.0,15],[34.1,20],[33.9,26],[34.0,32],[34.1,38],[34.5,22],[34.6,28],[34.4,34],[34.5,40],
 [35.0,30],[35.1,36],[34.9,42],[35.0,47],[35.3,40],[35.4,45],[35.2,50],[35.6,46],[35.7,51],[36.0,55],[36.1,58],
 [26.8,0.2],[27.3,0.5],[27.8,0.3],[28.3,0.5],[28.8,0.8],[29.3,0.5],[29.8,1],[30.3,1],[30.8,1.5],[31.3,1.5],[31.8,2.5],[32.3,3],[32.8,4],[33.3,5],
 [28.3,2],[28.8,3.5],[29.3,4],[29.8,5],[30.3,6.5],[30.8,7],[31.3,8],[31.8,9.5],[32.3,11],[32.8,13],[33.3,16],[33.8,18],[34.3,24],[34.8,30],
 [29.3,7.5],[29.8,10],[30.3,10],[30.8,13],[31.3,13],[31.8,15],[32.3,17],[32.8,20],[33.3,24],[33.8,28],[34.3,30],[34.8,36],[35.2,38],
 [32.8,26],[33.3,30],[33.8,35],[34.2,42],[34.7,44],[35.5,48],[35.8,53],[31.2,17],[31.7,21],[32.2,24],[30.7,2],[31.5,1],[32.0,2],[32.5,1.5],
 [33.0,4],[33.6,6],[34.0,9],[34.4,13],[34.8,18],[35.2,24],[35.5,30],
 [27.9,1.5],[28.4,3],[28.9,2],[29.4,3],[29.9,3.5],[30.4,4.5],[30.9,4],[31.4,5.5],[31.9,6.5],[32.4,8],[32.9,10],[33.4,12],[33.9,14],[34.4,18],
 [34.9,24],[35.3,32],[29.6,8],[30.2,8],[30.7,10],[31.2,11],[31.7,12.5],[32.2,14],[32.7,16],[33.2,19],[33.7,22],[34.2,27],[34.7,33],[35.1,43],
 [30.9,16],[31.4,19],[32.4,22],[33.4,27],[34.0,35],[34.6,38],[28.7,5.5],[29.2,9],[30.0,14],[27.3,2],[26.5,1.5],[25.5,0.8],[24.8,0.5],[26.0,1.8],
 [33.05,36.6],[36.3,62],[36.7,75],[36.8,70],[37.0,68],[37.3,65],[37.7,63],[38.0,66],[37.7,89],[36.8,81],
 [39.4,92],[39.7,86],[39.4,82],[40.0,98],[40.0,101],[39.9,113],[41.7,112],[42.5,111],[46.7,117.5]
];

// ---------- drawing ----------
const svg = d3.select("#chart");
const FONT_T = 19, FONT_K = 17;
const colCold = "#E8B800", colWarm = "#28236E";

function panel(cfg) {
  const g = svg.append("g");
  const x = d3.scaleLinear().domain(cfg.xDom).range([cfg.x0, cfg.x1]);
  const y = d3.scaleLinear().domain(cfg.yDom).range([cfg.y1, cfg.y0]);
  const id = "clip" + cfg.name;
  svg.append("clipPath").attr("id", id).append("rect")
    .attr("x", cfg.x0).attr("y", cfg.y0).attr("width", cfg.x1 - cfg.x0).attr("height", cfg.y1 - cfg.y0);
  const inner = g.append("g").attr("clip-path", `url(#${id})`);
  inner.selectAll(".gx").data(cfg.xTicks).enter().append("line")
    .attr("x1", d => x(d)).attr("x2", d => x(d)).attr("y1", cfg.y0).attr("y2", cfg.y1)
    .attr("stroke", "#b8b8b8").attr("stroke-width", 1).attr("stroke-dasharray", "1.5,4.5");
  inner.selectAll(".gy").data(cfg.yTicks).enter().append("line")
    .attr("y1", d => y(d)).attr("y2", d => y(d)).attr("x1", cfg.x0).attr("x2", cfg.x1)
    .attr("stroke", "#b8b8b8").attr("stroke-width", 1).attr("stroke-dasharray", "1.5,4.5");
  (cfg.vlines || []).forEach(v => {
    inner.append("line").attr("x1", x(v)).attr("x2", x(v)).attr("y1", cfg.y0).attr("y2", cfg.y1)
      .attr("stroke", cfg.vThick ? "#000" : "#333").attr("stroke-width", cfg.vThick ? 2.6 : 1)
      .attr("stroke-dasharray", cfg.vThick ? "8,5" : "3.5,2.5");
  });
  cfg.series.forEach(s => {
    inner.append("g").selectAll("circle").data(s.data).enter().append("circle")
      .attr("cx", d => x(d[0])).attr("cy", d => y(d[1])).attr("r", 3.4)
      .attr("fill", s.color).attr("fill-opacity", s.alpha);
  });
  const ax = d3.axisBottom(x).tickValues(cfg.xTicks).tickSize(11).tickFormat(d3.format("d"));
  const gx = g.append("g").attr("transform", `translate(0,${cfg.y1})`).call(ax);
  gx.select(".domain").remove();
  gx.selectAll(".tick line").attr("stroke", "#000").attr("stroke-width", 1.8);
  gx.selectAll(".tick text").attr("transform", "rotate(-90)").attr("text-anchor", "end")
    .attr("x", -cfg.xLabOff).attr("y", 0).attr("dy", "0.36em")
    .style("font-size", FONT_K + "px").attr("fill", "#1a1a1a");
  const ay = d3.axisLeft(y).tickValues(cfg.yTicks).tickSize(11).tickPadding(cfg.yLabOff - 11)
    .tickFormat(cfg.yFmt);
  const gy = g.append("g").attr("transform", `translate(${cfg.x0},0)`).call(ay);
  gy.select(".domain").remove();
  gy.selectAll(".tick line").attr("stroke", "#000").attr("stroke-width", 1.8);
  gy.selectAll(".tick text").style("font-size", (cfg.yFont || FONT_K) + "px").attr("fill", "#1a1a1a");
  g.append("rect").attr("x", cfg.x0).attr("y", cfg.y0).attr("width", cfg.x1 - cfg.x0).attr("height", cfg.y1 - cfg.y0)
    .attr("fill", "none").attr("stroke", "#000").attr("stroke-width", 2);
  const yc = (cfg.y0 + cfg.y1) / 2;
  cfg.yTitle.forEach((t, i) => {
    g.append("text").attr("transform", `translate(${cfg.yTitleX[i]},${yc}) rotate(-90)`)
      .attr("text-anchor", "middle").style("font-size", FONT_T + "px").text(t);
  });
  const xc = (cfg.x0 + cfg.x1) / 2;
  cfg.xTitle.forEach((t, i) => {
    g.append("text").attr("x", xc + cfg.xTitleDx[i]).attr("y", cfg.xTitleY[i])
      .attr("text-anchor", "middle").style("font-size", FONT_T + "px").text(t);
  });
  g.append("text").attr("x", cfg.x0 + 1).attr("y", cfg.letterY).style("font-size", "26px").text(cfg.name);
  return {x, y};
}

const topRow = {y0: 55, y1: 240, xLabOff: 23, xTitleY: [306, 328], letterY: 354};
const botRow = {y0: 403, y1: 589, xLabOff: 21, xTitleY: [652, 674], letterY: 690};

panel(Object.assign({}, topRow, {
  name: "a", x0: 121, x1: 367, xDom: [-13.7, 23.45], yDom: [-2.3, 59.9],
  xTicks: aprTicks, yTicks: spring_yTicks, yFmt: d3.format("d"), yLabOff: 22,
  series: [{data: aCold, color: colCold, alpha: 0.55}, {data: aWarm, color: colWarm, alpha: 0.58}],
  yTitle: ["Average spring frost days count", "(April to May)"], yTitleX: [23, 50],
  xTitle: ["April monthly", "minimum temperature °C)"], xTitleDx: [-3, 1]
}));
panel(Object.assign({}, topRow, {
  name: "b", x0: 527, x1: 772, xDom: [-13.7, 23.5], yDom: [-0.04, 1.04], xLabOff: 25,
  xTicks: aprTicks, yTicks: freqTicks, yFmt: d3.format(".1f"), yLabOff: 14, vlines: [0, 12],
  series: [{data: bCold, color: colCold, alpha: 0.55}, {data: bWarm, color: colWarm, alpha: 0.58}],
  yTitle: ["Frequency of years with", "spring frost (April to May)"], yTitleX: [428, 454],
  xTitle: ["April monthly", "minimum temperature °C)"], xTitleDx: [-4, 0]
}));
panel(Object.assign({}, topRow, {
  name: "c", x0: 933, x1: 1176, xDom: [-13.66, 23.38], yDom: [-8.7, 253.7], xLabOff: 25,
  xTicks: aprTicks, yTicks: doyTicks, yFmt: (d, i) => doyLabels[i], yLabOff: 26, yFont: 14,
  vlines: [0, 12], vThick: true,
  series: [{data: cCold, color: colCold, alpha: 0.55}, {data: cWarm, color: colWarm, alpha: 0.58}],
  yTitle: ["Last spring frost DOY", "(quantile 0.9)"], yTitleX: [810, 836],
  xTitle: ["April monthly", "minimum temperature °C)"], xTitleDx: [-4, 0]
}));
panel(Object.assign({}, botRow, {
  name: "d", x0: 121, x1: 367, xDom: [-28.1, 20.1], yDom: [-3.85, 99.85],
  xTicks: janTicks, yTicks: winter_yTicks, yFmt: d3.format("d"), yLabOff: 14,
  series: [{data: dPts, color: "#000", alpha: 0.5}],
  yTitle: ["Average winter frost days count", "(November to March)"], yTitleX: [24, 50],
  xTitle: ["January monthly", "minimum temperature °C)"], xTitleDx: [-2, 3]
}));
panel(Object.assign({}, botRow, {
  name: "e", x0: 527, x1: 771, xDom: [-28.2, 20.1], yDom: [-0.04, 1.04], xLabOff: 22,
  xTicks: janTicks, yTicks: freqTicks, yFmt: d3.format(".1f"), yLabOff: 12, vlines: [-11, 4],
  series: [{data: ePts, color: "#000", alpha: 0.5}],
  yTitle: ["Frequency of years with", "winter frost (Nov. to March)"], yTitleX: [428, 452],
  xTitle: ["January monthly", "minimum temperature °C)"], xTitleDx: [-2, 3]
}));
panel(Object.assign({}, botRow, {
  name: "f", x0: 932, x1: 1176, xDom: [2.7, 48.1], yDom: [-4.7, 122.2], xLabOff: 23,
  xTicks: julTicks, yTicks: heat_yTicks, yFmt: d3.format("d"), yLabOff: 14, vlines: [25, 30],
  series: [{data: fPts, color: "#000", alpha: 0.5}],
  yTitle: ["Average heat days count", "(June to August)"], yTitleX: [834, 859],
  xTitle: ["July", "maximum temperature °C)"], xTitleDx: [-2, 1]
}));

const lg = svg.append("g");
lg.append("rect").attr("x", 222).attr("y", 55).attr("width", 145).attr("height", 69)
  .attr("fill", "#fff").attr("stroke", "#000").attr("stroke-width", 2);
[colCold, colWarm].forEach((c, i) => {
  lg.append("circle").attr("cx", 238).attr("cy", 79 + i * 23).attr("r", 4)
    .attr("fill", c).attr("fill-opacity", i === 0 ? 0.45 : 0.55);
  lg.append("text").attr("x", 256).attr("y", 86 + i * 23).style("font-size", "19px").text(seriesNames[i]);
});
</script></body></html>
